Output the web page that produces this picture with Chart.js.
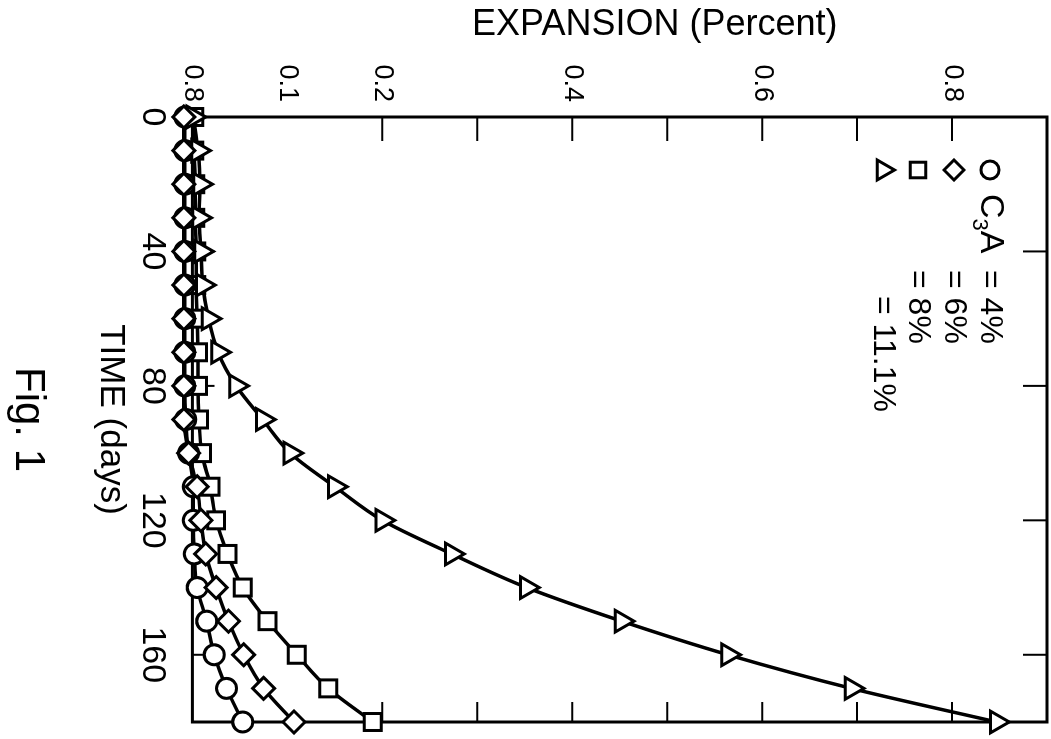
<!DOCTYPE html>
<html>
<head>
<meta charset="utf-8">
<script src="https://cdn.jsdelivr.net/npm/chart.js@4"></script>
<style>
  html, body { margin: 0; padding: 0; background: #fff; overflow: hidden; }
  /* the figure is printed sideways: draw it upright, then turn it 90deg clockwise */
  #wrap { position: absolute; left: 0; top: 0; width: 739px; height: 1051px;
          transform-origin: 0 0; transform: translateX(1051px) rotate(90deg); }
</style>
</head>
<body>
<div id="wrap"><canvas id="fig1" width="739" height="1051"></canvas></div>
<script>
// time in days
const days = [0, 10, 20, 30, 40, 50, 60, 70, 80, 90, 100, 110, 120, 130, 140, 150, 160, 170, 180];

// expansion in percent, one list per C3A content
const c3a4 = [-0.008, -0.008, -0.008, -0.008, -0.008, -0.008, -0.008, -0.008, -0.008, -0.007,
              -0.004, 0.001, 0.001, 0.002, 0.005, 0.015, 0.023, 0.036, 0.053];
const c3a6 = [-0.009, -0.009, -0.009, -0.009, -0.009, -0.009, -0.009, -0.009, -0.009, -0.009,
              -0.004, 0.005, 0.009, 0.014, 0.025, 0.038, 0.054, 0.075, 0.107];
const c3a8 = [0.002, 0.002, 0.003, 0.003, 0.004, 0.004, 0.005, 0.006, 0.006, 0.007,
              0.010, 0.019, 0.025, 0.037, 0.053, 0.079, 0.110, 0.143, 0.190];
const c3a11 = [0.001, 0.006, 0.008, 0.007, 0.009, 0.011, 0.017, 0.027, 0.046, 0.074,
               0.103, 0.150, 0.200, 0.273, 0.352, 0.452, 0.564, 0.694, 0.847];

const timeTicks = [0, 40, 80, 120, 160];
const timeMarks = [40, 80, 120, 160];
const expTicks = [0, 0.1, 0.2, 0.4, 0.6, 0.8];
const expTickLabels = ['0.8', '0.1', '0.2', '0.4', '0.6', '0.8'];
const expMarks = [0.2, 0.3, 0.4, 0.5, 0.6, 0.7, 0.8];

const legendHead = ['C', '3', 'A'];
const legendText = ['= 4%', '= 6%', '= 8%', '= 11.1%'];
const styles = ['circle', 'rectRot', 'rect', 'triangle'];
const radii = [10, 11, 12, 12.5];
const drawOrder = [2, 0, 3, 1];   // diamonds on top, then triangles, circles, squares

const FONT = "'Liberation Sans', Arial, Helvetica, sans-serif";
Chart.defaults.font.family = FONT;
Chart.defaults.color = '#000';

function series(vals, i) {
    return {
        data: days.map((d, k) => ({ x: d, y: vals[k] })),
        order: drawOrder[i],
        borderColor: '#000',
        borderWidth: 3.5,
        pointStyle: styles[i],
        pointRadius: radii[i],
        pointBorderWidth: 3,
        pointBorderColor: '#000',
        pointBackgroundColor: '#fff',
        cubicInterpolationMode: 'monotone',
        fill: false,
        clip: false
    };
}

// frame, inward tick marks, y title and the legend box
const extras = {
    id: 'extras',
    beforeDatasetsDraw(chart) {
        const { ctx, chartArea: a, scales } = chart;
        ctx.save();
        ctx.strokeStyle = '#000';
        ctx.lineWidth = 3;
        ctx.strokeRect(a.left, a.top, a.right - a.left, a.bottom - a.top);
        ctx.lineWidth = 2;
        ctx.beginPath();
        timeMarks.forEach(t => {
            const px = scales.x.getPixelForValue(t);
            ctx.moveTo(px, a.bottom); ctx.lineTo(px, a.bottom - 22);
            ctx.moveTo(px, a.top); ctx.lineTo(px, a.top + 24);
        });
        expMarks.forEach(v => {
            const py = scales.y.getPixelForValue(v);
            ctx.moveTo(a.left, py); ctx.lineTo(a.left + 24, py);
            ctx.moveTo(a.right, py); ctx.lineTo(a.right - 20, py);
        });
        ctx.stroke();
        ctx.restore();
    },
    afterDraw(chart) {
        const { ctx, chartArea: a } = chart;
        ctx.save();
        ctx.fillStyle = '#000';

        // y axis title
        ctx.translate(25, a.top + (a.bottom - a.top) * 0.459);
        ctx.rotate(-Math.PI / 2);
        ctx.textAlign = 'center';
        ctx.textBaseline = 'middle';
        ctx.font = '36px ' + FONT;
        ctx.fillText('EXPANSION (Percent)', 0, 0);
        ctx.restore();

        // legend
        ctx.save();
        ctx.textBaseline = 'middle';
        ctx.textAlign = 'left';
        const rowY = [61, 97, 133, 168];
        const textX = [270, 270, 270, 296];
        styles.forEach((st, i) => {
            ctx.fillStyle = '#fff';
            ctx.strokeStyle = '#000';
            ctx.lineWidth = 3;
            Chart.helpers.drawPoint(ctx, { pointStyle: st, radius: radii[i] - 1, rotation: 0, borderWidth: 3 }, 170, rowY[i]);
            ctx.fillStyle = '#000';
            ctx.font = '32px ' + FONT;
            ctx.fillText(legendText[i], textX[i], rowY[i]);
        });
        let x = 194;
        ctx.font = '34px ' + FONT;
        ctx.fillText(legendHead[0], x, rowY[0]);
        x += ctx.measureText(legendHead[0]).width;
        ctx.font = '22px ' + FONT;
        ctx.fillText(legendHead[1], x, rowY[0] + 11);
        x += ctx.measureText(legendHead[1]).width;
        ctx.font = '34px ' + FONT;
        ctx.fillText(legendHead[2], x, rowY[0]);
        ctx.restore();
    }
};

new Chart(document.getElementById('fig1').getContext('2d'), {
    type: 'line',
    data: {
        datasets: [series(c3a4, 0), series(c3a6, 1), series(c3a8, 2), series(c3a11, 3)]
    },
    options: {
        responsive: false,
        animation: false,
        devicePixelRatio: 1,
        events: [],
        layout: { autoPadding: false, padding: { top: 4, right: 17, left: 0, bottom: 0 } },
        plugins: {
            legend: { display: false },
            tooltip: { enabled: false },
            title: {
                display: true,
                text: 'Fig. 1',
                position: 'bottom',
                fullSize: false,
                font: { size: 42, weight: 'normal' },
                color: '#000',
                padding: { top: 0, bottom: 2 }
            }
        },
        scales: {
            x: {
                type: 'linear',
                min: 0,
                max: 180,
                afterBuildTicks: s => { s.ticks = timeTicks.map(v => ({ value: v })); },
                afterFit: s => { s.height = 140; s.paddingLeft = 0; s.paddingRight = 0; },
                grid: { display: false, drawTicks: false },
                border: { display: false },
                ticks: { font: { size: 34 }, color: '#000', padding: 20, maxRotation: 0, autoSkip: false },
                title: {
                    display: true,
                    text: 'TIME (days)',
                    font: { size: 35 },
                    color: '#000',
                    padding: { top: 0, bottom: 37 }
                }
            },
            y: {
                type: 'linear',
                min: 0,
                max: 0.9,
                afterBuildTicks: s => { s.ticks = expTicks.map(v => ({ value: v })); },
                afterFit: s => { s.width = 117; s.paddingTop = 0; s.paddingBottom = 0; },
                grid: { display: false, drawTicks: false },
                border: { display: false },
                ticks: {
                    font: { size: 27 },
                    color: '#000',
                    padding: 15,
                    autoSkip: false,
                    callback: (v, i) => expTickLabels[i]
                }
            }
        }
    },
    plugins: [extras]
});
</script>
</body>
</html>
